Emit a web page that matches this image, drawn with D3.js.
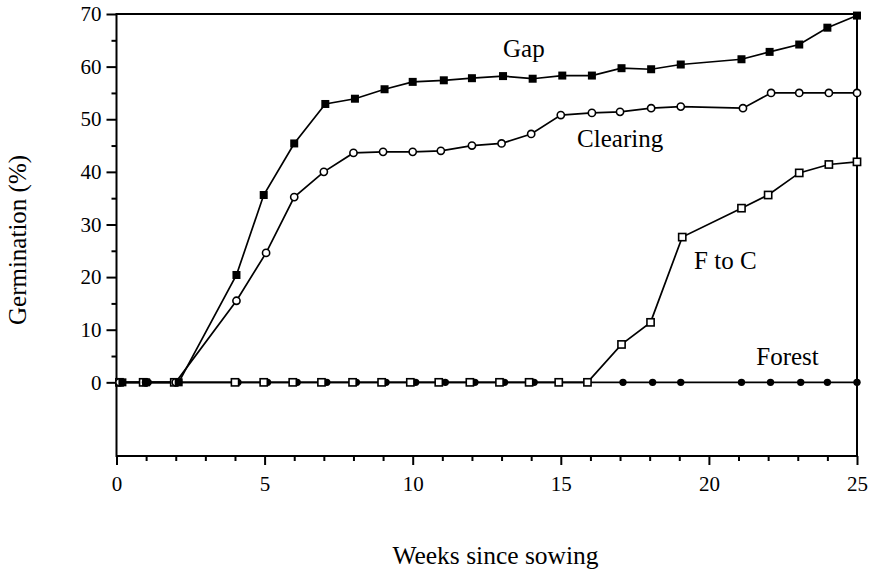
<!DOCTYPE html>
<html><head><meta charset="utf-8">
<script src="https://cdn.jsdelivr.net/npm/d3@7"></script>
<style>body{margin:0;background:#fff}svg{display:block}</style>
</head><body><svg id="c" width="874" height="571"></svg>
<script>
// Data (weeks since sowing, germination %)
const gapWeeks = [0.2, 1.0, 2.1, 4.05, 4.97, 6.0, 7.05, 8.05, 9.05, 10.0, 11.05, 12.0, 13.05, 14.05, 15.05, 16.05, 17.05, 18.05, 19.05, 21.1, 22.05, 23.05, 24.0, 25.0];
const gapValues = [0, 0, 0, 20.4, 35.6, 45.4, 52.9, 53.9, 55.7, 57.1, 57.4, 57.8, 58.2, 57.7, 58.3, 58.3, 59.7, 59.5, 60.4, 61.4, 62.8, 64.2, 67.4, 69.7];
const clearingWeeks = [0.1, 1.0, 2.0, 4.05, 5.05, 6.0, 7.0, 8.0, 9.0, 10.0, 10.95, 12.0, 13.0, 14.0, 15.0, 16.05, 17.0, 18.05, 19.05, 21.15, 22.1, 23.05, 24.05, 25.0];
const clearingValues = [0, 0, 0, 15.5, 24.6, 35.2, 40.0, 43.6, 43.8, 43.8, 44.0, 45.0, 45.4, 47.2, 50.8, 51.2, 51.4, 52.1, 52.4, 52.1, 55.0, 55.0, 55.0, 55.0];
const ftocWeeks = [0.1, 0.9, 1.95, 4.0, 4.97, 5.95, 6.92, 7.97, 8.95, 9.92, 10.88, 11.93, 12.93, 13.93, 14.93, 15.9, 17.05, 18.03, 19.1, 21.1, 22.0, 23.05, 24.05, 25.0];
const ftocValues = [0, 0, 0, 0, 0, 0, 0, 0, 0, 0, 0, 0, 0, 0, 0, 0, 7.2, 11.4, 27.6, 33.1, 35.6, 39.8, 41.4, 41.9];
const forestWeeks = [0.15, 1.07, 2.1, 4.1, 5.1, 6.1, 7.1, 8.1, 9.1, 10.1, 11.1, 12.1, 13.1, 14.1, 14.93, 15.9, 17.1, 18.1, 19.05, 21.1, 22.08, 23.1, 24.0, 25.0];
const forestValues = [0, 0, 0, 0, 0, 0, 0, 0, 0, 0, 0, 0, 0, 0, 0, 0, 0, 0, 0, 0, 0, 0, 0, 0];
const seriesNames = ["Forest", "F to C", "Clearing", "Gap"];
const yMajorTicks = [0, 10, 20, 30, 40, 50, 60, 70];
const yMinorTicks = [5, 15, 25, 35, 45, 55, 65];
const xMajorTicks = [0, 5, 10, 15, 20, 25];
const xMinorTicks = [1, 2, 3, 4, 6, 7, 8, 9, 11, 12, 13, 14, 16, 17, 18, 19, 21, 22, 23, 24];
const xTitle = "Weeks since sowing";
const yTitle = "Germination (%)";

const FONT = "'Liberation Serif', 'DejaVu Serif', 'Times New Roman', Times, serif";

const svg = d3.select("#c");
const x = d3.scaleLinear().domain([0, 25]).range([116.5, 857]);
const y = d3.scaleLinear().domain([-14, 70]).range([456, 14]);

// frame
svg.append("rect").attr("x", x(0)).attr("y", y(70)).attr("width", x(25) - x(0)).attr("height", y(-14) - y(70))
  .attr("fill", "none").attr("stroke", "#000").attr("stroke-width", 2);

// axes
const yAx = svg.append("g").attr("transform", `translate(${x(0)},0)`)
  .call(d3.axisLeft(y).tickValues(yMajorTicks).tickSize(10).tickPadding(5).tickFormat(d3.format("d")));
const yMin = svg.append("g").attr("transform", `translate(${x(0)},0)`)
  .call(d3.axisLeft(y).tickValues(yMinorTicks).tickSize(5).tickFormat(""));
const xAx = svg.append("g").attr("transform", `translate(0,${y(-14)})`)
  .call(d3.axisBottom(x).tickValues(xMajorTicks).tickSize(9).tickPadding(11).tickFormat(d3.format("d")));
const xMin = svg.append("g").attr("transform", `translate(0,${y(-14)})`)
  .call(d3.axisBottom(x).tickValues(xMinorTicks).tickSize(5).tickFormat(""));
[yAx, yMin, xAx, xMin].forEach(g => {
  g.attr("font-family", FONT).attr("font-size", 21);
  g.select(".domain").remove();
  g.selectAll("line").attr("stroke", "#000").attr("stroke-width", 2);
  g.selectAll("text").attr("font-family", FONT).attr("font-size", 21).attr("fill", "#000");
});

const line = d3.line().x(d => x(d[0])).y(d => y(d[1]));
const zip = (w, v) => w.map((d, i) => [d, v[i]]);
const data = {
  "Forest": zip(forestWeeks, forestValues),
  "F to C": zip(ftocWeeks, ftocValues),
  "Clearing": zip(clearingWeeks, clearingValues),
  "Gap": zip(gapWeeks, gapValues)
};

seriesNames.forEach(name => {
  svg.append("path").datum(data[name]).attr("d", line)
    .attr("fill", "none").attr("stroke", "#000").attr("stroke-width", 1.7);
});

seriesNames.forEach(name => {
  const g = svg.append("g");
  const pts = data[name];
  if (name === "Forest") {
    g.selectAll("circle").data(pts).join("circle")
      .attr("cx", d => x(d[0])).attr("cy", d => y(d[1])).attr("r", 3.7).attr("fill", "#000");
  } else if (name === "Clearing") {
    g.selectAll("circle").data(pts).join("circle")
      .attr("cx", d => x(d[0])).attr("cy", d => y(d[1])).attr("r", 3.6)
      .attr("fill", "#fff").attr("stroke", "#000").attr("stroke-width", 1.6);
  } else if (name === "F to C") {
    g.selectAll("rect").data(pts).join("rect")
      .attr("x", d => x(d[0]) - 3.6).attr("y", d => y(d[1]) - 3.6).attr("width", 7.2).attr("height", 7.2)
      .attr("fill", "#fff").attr("stroke", "#000").attr("stroke-width", 1.6);
  } else {
    g.selectAll("rect").data(pts).join("rect")
      .attr("x", d => x(d[0]) - 4).attr("y", d => y(d[1]) - 4).attr("width", 8).attr("height", 8)
      .attr("fill", "#000");
  }
});

// series labels
const labels = [
  {t: "Gap", w: 13.05, v: 61.8},
  {t: "Clearing", w: 15.55, v: 44.8},
  {t: "F to C", w: 19.5, v: 21.6},
  {t: "Forest", w: 21.6, v: 3.3}
];
svg.selectAll("text.lab").data(labels).join("text").attr("class", "lab")
  .attr("x", d => x(d.w)).attr("y", d => y(d.v))
  .attr("font-family", FONT).attr("font-size", 25).attr("fill", "#000").text(d => d.t);

// titles
svg.append("text").attr("x", 495.5).attr("y", 564).attr("text-anchor", "middle")
  .attr("font-family", FONT).attr("font-size", 25.5).attr("fill", "#000").text(xTitle);
svg.append("text").attr("transform", "translate(26,325) rotate(-90)").attr("text-anchor", "start")
  .attr("font-family", FONT).attr("font-size", 25).attr("fill", "#000").text(yTitle);
</script></body></html>
